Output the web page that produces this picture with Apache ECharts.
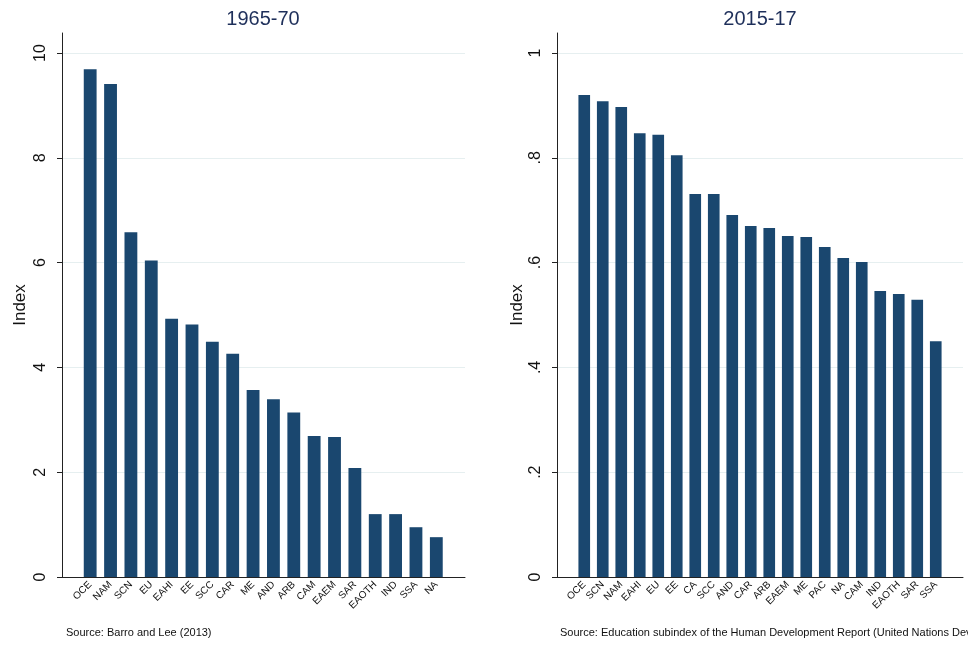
<!DOCTYPE html>
<html>
<head>
<meta charset="utf-8">
<script src="https://cdn.jsdelivr.net/npm/echarts@6/dist/echarts.min.js"></script>
<style>
    html, body { margin: 0; padding: 0; background: #fff; }
    #chart { width: 968px; height: 645px; }
</style>
</head>
<body>
<div id="chart"></div>
<script>
// 1965-70 (Barro and Lee)
const leftCats = ['OCE', 'NAM', 'SCN', 'EU', 'EAHI', 'EE', 'SCC', 'CAR', 'ME', 'AND',
    'ARB', 'CAM', 'EAEM', 'SAR', 'EAOTH', 'IND', 'SSA', 'NA'];
const leftVals = [9.69, 9.41, 6.58, 6.04, 4.93, 4.82, 4.49, 4.26, 3.57, 3.39,
    3.14, 2.69, 2.67, 2.08, 1.20, 1.20, 0.95, 0.76];
const leftTicks = [0, 2, 4, 6, 8, 10];

// 2015-17 (HDR education subindex)
const rightCats = ['OCE', 'SCN', 'NAM', 'EAHI', 'EU', 'EE', 'CA', 'SCC', 'AND', 'CAR',
    'ARB', 'EAEM', 'ME', 'PAC', 'NA', 'CAM', 'IND', 'EAOTH', 'SAR', 'SSA'];
const rightVals = [0.920, 0.908, 0.897, 0.847, 0.844, 0.805, 0.731, 0.731, 0.691, 0.670,
    0.666, 0.651, 0.649, 0.630, 0.609, 0.601, 0.546, 0.540, 0.529, 0.450];
const rightTicks = [0, 0.2, 0.4, 0.6, 0.8, 1];

window.onload = function () {
    let chartDom = document.getElementById('chart');
    let chart = echarts.init(chartDom);

    const font = 'Liberation Sans, Arial, sans-serif';
    const barColor = '#1a476f';
    const axisColor = '#222';

    function fmtRight(v) {
        if (v === 0) return '0';
        if (v === 1) return '1';
        return String(+v.toFixed(1)).replace('0.', '.');
    }

    // each panel: frame grid (axis lines), tick grid (labels, grid lines), bar grid
    function panel(idx, x, w, bx, bw, cats, vals, ticks, fmt, nameGap) {
        let g = idx * 3;
        let grids = [
            { left: x, top: 33, width: w, height: 544 },
            { left: x, top: 53, width: w, height: 524 },
            { left: bx, top: 53, width: bw, height: 524 }
        ];
        let top = ticks[ticks.length - 1];
        let step = ticks[1] - ticks[0];
        let xAxes = [
            { gridIndex: g, type: 'value', min: 0, max: 1,
              axisLine: { show: true, lineStyle: { color: axisColor, width: 1 } },
              axisTick: { show: false }, axisLabel: { show: false }, splitLine: { show: false } },
            { gridIndex: g + 1, type: 'value', min: 0, max: 1, show: false },
            { gridIndex: g + 2, type: 'category', data: cats,
              axisLine: { show: false }, axisTick: { show: false },
              axisLabel: { rotate: 45, fontSize: 10, color: '#111', fontFamily: font, margin: 6, interval: 0 } }
        ];
        let yAxes = [
            { gridIndex: g, type: 'value', min: 0, max: 1,
              axisLine: { show: true, lineStyle: { color: axisColor, width: 1 } },
              axisTick: { show: false }, axisLabel: { show: false }, splitLine: { show: false },
              name: 'Index', nameLocation: 'middle', nameGap: nameGap,
              nameTextStyle: { fontSize: 17, color: '#111', fontFamily: font } },
            { gridIndex: g + 1, type: 'value', min: 0, max: top, interval: step,
              axisLine: { show: false },
              axisTick: { show: true, length: 5, lineStyle: { color: axisColor } },
              axisLabel: { rotate: 90, fontSize: 16, color: '#111', fontFamily: font, margin: 13,
                  formatter: fmt },
              splitLine: { show: true, lineStyle: { color: '#e6eff0', width: 1 } } },
            { gridIndex: g + 2, type: 'value', min: 0, max: top, show: false }
        ];
        let series = {
            type: 'bar', xAxisIndex: g + 2, yAxisIndex: g + 2, data: vals,
            barCategoryGap: '37%', itemStyle: { color: barColor }, silent: true
        };
        return { grids, xAxes, yAxes, series };
    }

    let p1 = panel(0, 62, 403, 80, 366.5, leftCats, leftVals, leftTicks, v => String(v), 33);
    let p2 = panel(1, 557, 406, 575, 370, rightCats, rightVals, rightTicks, fmtRight, 31);

    let option = {
        animation: false,
        textStyle: { fontFamily: font },
        grid: p1.grids.concat(p2.grids),
        xAxis: p1.xAxes.concat(p2.xAxes),
        yAxis: p1.yAxes.concat(p2.yAxes),
        series: [p1.series, p2.series],
        graphic: [
            { type: 'text', x: 263, y: 19,
              style: { text: '1965-70', fontSize: 20, fill: '#1e2f5a', fontFamily: font,
                  textAlign: 'center', textVerticalAlign: 'middle' } },
            { type: 'text', x: 760, y: 19,
              style: { text: '2015-17', fontSize: 20, fill: '#1e2f5a', fontFamily: font,
                  textAlign: 'center', textVerticalAlign: 'middle' } },
            { type: 'text', x: 66, y: 633,
              style: { text: 'Source: Barro and Lee (2013)', fontSize: 11, fill: '#111', fontFamily: font,
                  textVerticalAlign: 'middle' } },
            { type: 'text', x: 560, y: 633,
              style: { text: 'Source: Education subindex of the Human Development Report (United Nations Development Programme)',
                  fontSize: 11, fill: '#111', fontFamily: font, textVerticalAlign: 'middle' } }
        ]
    };

    chart.setOption(option);
};
</script>
</body>
</html>
